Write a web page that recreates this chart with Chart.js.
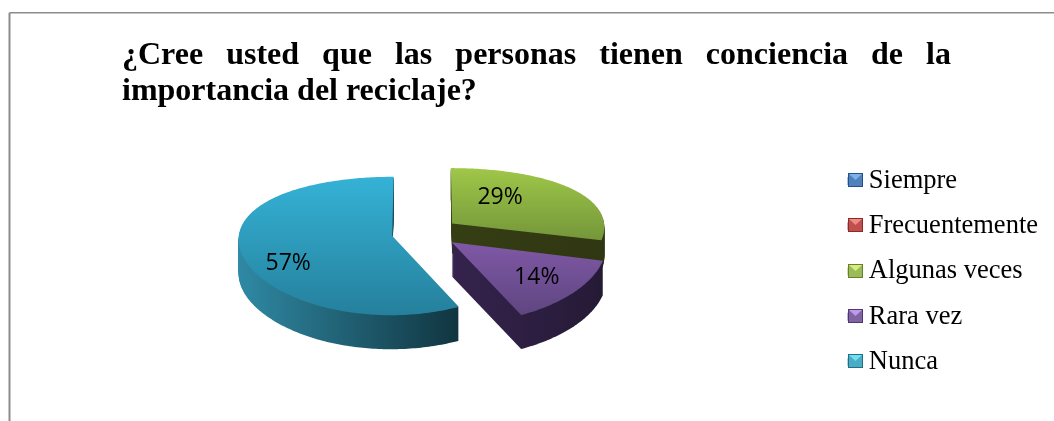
<!DOCTYPE html>
<html lang="es">
<head>
<meta charset="utf-8">
<title>Reciclaje</title>
<script src="https://cdn.jsdelivr.net/npm/chart.js@4"></script>
<style>
  html, body { margin: 0; padding: 0; background: #fff; }
  canvas { display: block; }
</style>
</head>
<body>
<canvas id="grafico" width="1054" height="421"></canvas>
<script>
// Datos
const categorias = ['Siempre', 'Frecuentemente', 'Algunas veces', 'Rara vez', 'Nunca'];
const porcentajes = [0, 0, 29, 14, 57];
const tituloLineas = ['¿Cree usted que las personas tienen conciencia de la', 'importancia del reciclaje?'];

// Colores de cada porcion
const colores = ['#4f81bd', '#c0504d', '#9bbb59', '#8064a2', '#4bacc6'];
const carasSup = [null, null, ['#9fc748', '#74963a'], ['#7f58a6', '#5f4680'], ['#35b2d6', '#25809c']];
const carasLat = [null, null, ['#363e14', '#2f3612'], ['#35234d', '#251a36'], ['#2f89a4', '#113540']];
const biselLegenda = [['#7fb0e8', '#24508a'], ['#f08a86', '#8c2a27'], ['#d6ee80', '#66802c'], ['#c09ae6', '#4f3675'], ['#70e0f0', '#1f6f85']];
const posEtiquetas = [null, null, [48, -26], [85, 35], [-104, 28]];

const PROFUNDIDAD = [0, 0, 30, 34, 34];

// Pasa un punto del plano del pastel a la pantalla (inclinado, con algo de perspectiva)
function proyectar(c, dx, dy) {
  return {
    x: c.x + dx * (1 + 0.0003 * dy),
    y: c.y + 0.446 * dy + 0.000435 * dy * dy
  };
}

// Contorno de una porcion ya proyectado: centro y luego el arco
function contorno(arco, c) {
  const mitad = (arco.startAngle + arco.endAngle) / 2;
  const desp = arco.options.offset;
  const ox = arco.x - c.x + Math.cos(mitad) * desp;
  const oy = arco.y - c.y + Math.sin(mitad) * desp;
  const pts = [proyectar(c, ox, oy)];
  const pasos = Math.max(2, Math.ceil((arco.endAngle - arco.startAngle) * 60));
  for (let i = 0; i <= pasos; i++) {
    const a = arco.startAngle + (arco.endAngle - arco.startAngle) * i / pasos;
    pts.push(proyectar(c, ox + Math.cos(a) * arco.outerRadius, oy + Math.sin(a) * arco.outerRadius));
  }
  return pts;
}

function rellenar(ctx, pts, estilo, bajada) {
  ctx.beginPath();
  pts.forEach((p, i) => i ? ctx.lineTo(p.x, p.y + bajada) : ctx.moveTo(p.x, p.y + bajada));
  ctx.closePath();
  ctx.fillStyle = estilo;
  ctx.fill();
}

const pastel3d = {
  id: 'pastel3d',
  beforeDatasetsDraw(chart) {
    const ctx = chart.ctx;
    const meta = chart.getDatasetMeta(0);
    const c = { x: meta.data[0].x, y: meta.data[0].y };
    // primero el fondo: verde, morado, azul
    meta.data.forEach((arco, i) => {
      if (!porcentajes[i]) return;
      const pts = contorno(arco, c);
      const xs = pts.map(p => p.x);
      const ys = pts.map(p => p.y);
      const lat = ctx.createLinearGradient(Math.min(...xs), 0, Math.max(...xs), 0);
      lat.addColorStop(0, carasLat[i][0]);
      lat.addColorStop(1, carasLat[i][1]);
      // el grosor se hace apilando la misma forma hacia abajo
      for (let d = PROFUNDIDAD[i]; d > 0; d--) {
        rellenar(ctx, pts, lat, d);
      }
      // cara superior
      const sup = ctx.createLinearGradient(0, Math.min(...ys), 0, Math.max(...ys));
      sup.addColorStop(0, carasSup[i][0]);
      sup.addColorStop(1, carasSup[i][1]);
      rellenar(ctx, pts, sup, 0);
      // porcentaje
      const centro = pts[0];
      ctx.fillStyle = '#000';
      ctx.font = '23px "Open Sans"';
      ctx.textAlign = 'center';
      ctx.textBaseline = 'middle';
      ctx.fillText(porcentajes[i] + '%', centro.x + posEtiquetas[i][0], centro.y + posEtiquetas[i][1]);
    });
    return false;
  },
  afterLayout(chart) {
    // la leyenda va mas abajo que el centro del pastel
    chart.legend.top = 149;
  },
  afterDraw(chart) {
    const ctx = chart.ctx;
    ctx.save();
    // marco gris
    ctx.strokeStyle = '#8c8c8c';
    ctx.lineWidth = 2;
    ctx.beginPath();
    ctx.moveTo(9.5, 421);
    ctx.lineTo(9.5, 12.75);
    ctx.stroke();
    ctx.lineWidth = 1.5;
    ctx.beginPath();
    ctx.moveTo(9.5, 12.75);
    ctx.lineTo(1054, 12.75);
    ctx.stroke();
    // titulo justificado
    ctx.fillStyle = '#000';
    ctx.font = 'bold 32px "Liberation Serif"';
    ctx.textAlign = 'left';
    ctx.textBaseline = 'alphabetic';
    const libre = 829 - ctx.measureText(tituloLineas[0]).width;
    ctx.wordSpacing = (libre / (tituloLineas[0].split(' ').length - 1)) + 'px';
    ctx.fillText(tituloLineas[0], 122, 64);
    ctx.wordSpacing = '0px';
    ctx.fillText(tituloLineas[1], 122, 100);
    // cuadritos de la leyenda con bisel
    ctx.lineWidth = 1;
    chart.legend.legendHitBoxes.forEach((h, i) => {
      const x = Math.round(h.left), y = Math.round(h.top + h.height / 2 - 8);
      ctx.fillStyle = colores[i];
      ctx.fillRect(x, y, 15, 14);
      ctx.fillStyle = biselLegenda[i][0];
      ctx.beginPath();
      ctx.moveTo(x + 1, y + 1);
      ctx.lineTo(x + 14, y + 1);
      ctx.lineTo(x + 7.5, y + 7);
      ctx.closePath();
      ctx.fill();
      ctx.strokeStyle = biselLegenda[i][1];
      ctx.strokeRect(x + 0.5, y + 0.5, 14, 13);
    });
    ctx.restore();
  }
};

new Chart(document.getElementById('grafico'), {
  type: 'pie',
  data: {
    labels: categorias,
    datasets: [{
      data: porcentajes,
      backgroundColor: colores,
      borderWidth: 0,
      offset: 34,
      hoverOffset: 0,
      radius: 153
    }]
  },
  options: {
    responsive: false,
    animation: false,
    layout: { padding: { left: 22, right: 6, top: 44, bottom: 0 } },
    plugins: {
      tooltip: { enabled: false },
      title: { display: false },
      legend: {
        position: 'right',
        align: 'start',
        labels: {
          boxWidth: 8,
          boxHeight: 8,
          padding: 18.75,
          color: '#000',
          font: { family: '"Liberation Serif"', size: 26.5 }
        }
      }
    }
  },
  plugins: [pastel3d]
});
</script>
</body>
</html>
